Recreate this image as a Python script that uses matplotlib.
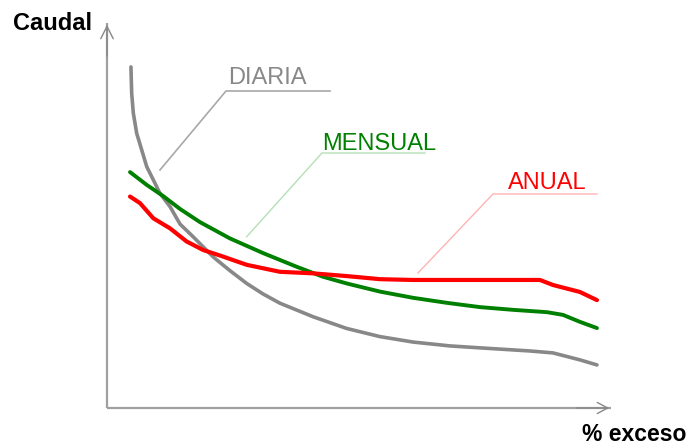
import matplotlib
matplotlib.use("Agg")
import matplotlib.pyplot as plt

plt.rcParams['font.family'] = ['Liberation Sans', 'DejaVu Sans']

# Data (x: % excedencia 0-100, y: caudal in arbitrary units)
diaria_x = [0.2, 0.36, 0.71, 1.43, 2.51, 3.58, 4.99, 6.42, 8.57, 10.71, 13.55, 15.7,
            17.84, 21.41, 24.99, 28.48, 32.12, 39.25, 46.4, 53.53, 60.6, 68.52, 74.95,
            85.65, 90.58, 96.36, 100]
diaria_y = [87.9, 81.1, 76.0, 70.8, 66.5, 62.2, 58.8, 55.3, 51.9, 47.4, 44.1, 41.5,
            38.9, 35.4, 32.1, 29.4, 27.0, 23.5, 20.5, 18.4, 17.0, 16.0, 15.5,
            14.7, 14.2, 12.4, 11.1]

mensual_x = [0, 3.58, 7.13, 10.71, 14.99, 21.41, 28.54, 35.7, 41.39, 46.4, 53.53, 60.6,
             67.88, 74.95, 82.01, 89.29, 92.72, 96.36, 100]
mensual_y = [60.8, 57.5, 54.6, 51.3, 47.9, 43.7, 39.9, 36.4, 33.8, 32.1, 30.0, 28.4,
             27.1, 26.0, 25.3, 24.7, 24.0, 22.2, 20.6]

anual_x = [0, 2.14, 4.99, 8.57, 12.14, 15.7, 19.27, 24.99, 32.12, 39.25, 46.4, 53.53,
           60.6, 87.79, 90.58, 96.36, 100]
anual_y = [54.5, 52.8, 48.9, 46.3, 42.9, 40.7, 39.3, 36.9, 35.1, 34.7, 34.0, 33.2,
           33.0, 33.0, 31.7, 29.9, 27.8]

labels = ["DIARIA", "MENSUAL", "ANUAL"]
x_label = "% exceso"
y_label = "Caudal"

fig = plt.figure(figsize=(6.97, 4.47), dpi=100)
ax = fig.add_axes([0, 0, 1, 1])
ax.set_xlim(-27.84, 121.42)
ax.set_ylim(-10.05, 105.15)
ax.axis('off')

axis_col = '#a0a0a0'
x0, y0 = -4.93, 0
ax.plot([x0, 103.0], [y0, y0], color=axis_col, lw=1.6, solid_capstyle='butt', zorder=1)
ax.plot([x0, x0], [y0, 99.3], color=axis_col, lw=1.6, solid_capstyle='butt', zorder=1)
ax.annotate('', xy=(103.2, 0), xytext=(95, 0),
            arrowprops=dict(arrowstyle='->,head_length=0.75,head_width=0.4',
                            color='#888888', lw=1.0))
ax.annotate('', xy=(x0, 99.5), xytext=(x0, 90),
            arrowprops=dict(arrowstyle='->,head_length=0.9,head_width=0.45',
                            color='#888888', lw=1.0))

# curves
ax.plot(diaria_x, diaria_y, color='#888888', lw=2.6, zorder=3, solid_capstyle='round')
ax.plot(mensual_x, mensual_y, color='#008000', lw=2.8, zorder=4, solid_capstyle='round')
ax.plot(anual_x, anual_y, color='#ff0000', lw=3.0, zorder=5, solid_capstyle='round')

# leader lines
ax.plot([6.42, 20.56, 42.83], [61.34, 81.70, 81.70], color='#a8a8a8', lw=1.2, zorder=2)
ax.plot([24.99, 41.11, 63.17], [44.15, 65.72, 65.72], color='#b4e0b4', lw=1.0, zorder=2)
ax.plot([61.67, 77.73, 100.0], [34.79, 55.15, 55.15], color='#ffb4b4', lw=1.0, zorder=2)

fs = 17
ax.text(21.0, 83.5, labels[0], color='#888888', fontsize=fs, va='baseline', ha='left')
ax.text(41.1, 66.5, labels[1], color='#008000', fontsize=fs, va='baseline', ha='left')
ax.text(80.9, 56.4, labels[2], color='#ff0000', fontsize=fs, va='baseline', ha='left')

ax.text(-25.05, 97.4, y_label, color='black', fontsize=fs, fontweight='bold',
        va='baseline', ha='left')
ax.text(96.9, -8.4, x_label, color='black', fontsize=16.5, fontweight='bold',
        va='baseline', ha='left')

fig.savefig('out.png', dpi=100)
